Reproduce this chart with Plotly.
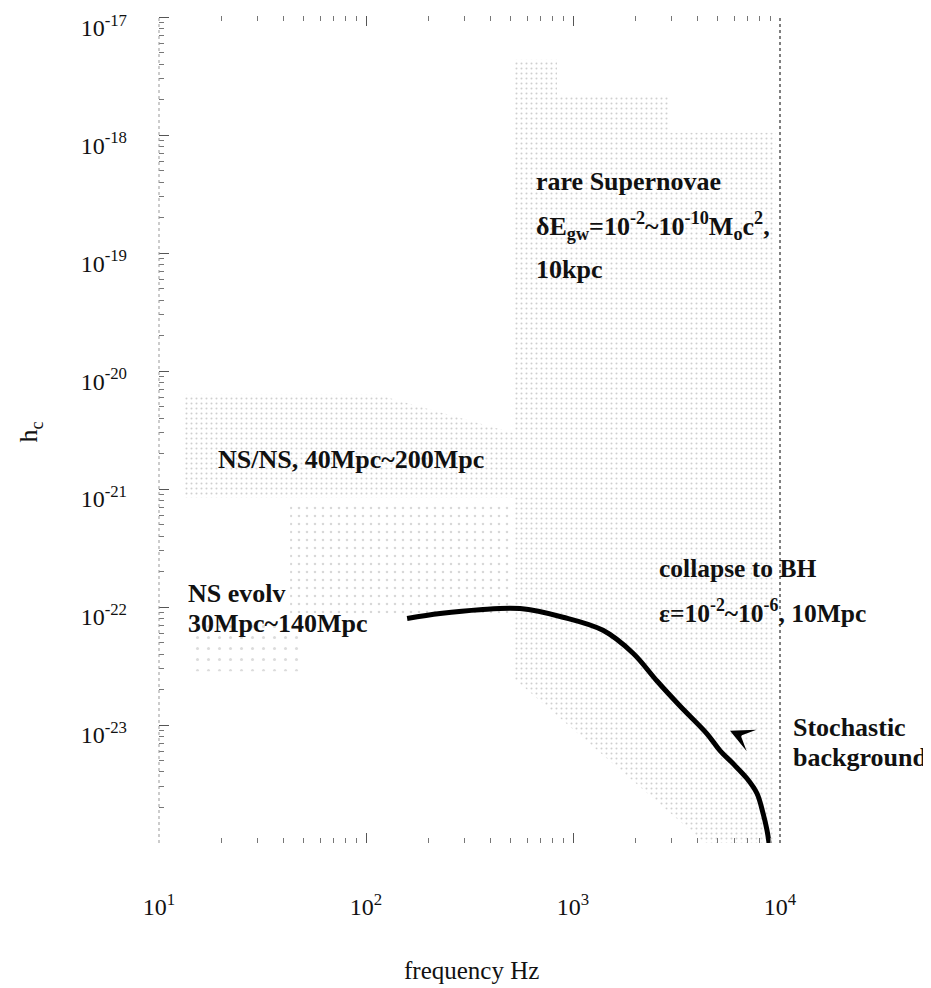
import plotly.graph_objects as go

# ---- data ----
FREQ = [158, 228, 355, 555, 895, 1396, 1950, 2546, 3288, 4440, 5130, 5929, 6928, 7745, 8278, 8655, 8850]
HC = [8.0e-23, 8.8e-23, 9.5e-23, 9.7e-23, 8.2e-23, 6.35e-23, 4.06e-23, 2.36e-23, 1.45e-23,
      8.43e-24, 6.07e-24, 4.71e-24, 3.52e-24, 2.63e-24, 1.79e-24, 1.28e-24, 1.0e-24]

# stippled regions (polygon vertices, freq Hz / h_c)
SN_F = [513, 837, 837, 2877, 2877, 9500, 9500, 4350, 536, 513]
SN_H = [4.35e-18, 4.35e-18, 2.12e-18, 2.12e-18, 1.05e-18, 1.05e-18, 1.0e-24, 1.0e-24, 2.36e-23, 2.36e-23]
NSNS_F = [13.1, 114, 513, 513, 13.1]
NSNS_H = [6.3e-21, 6.3e-21, 3.0e-21, 8.5e-22, 8.5e-22]
SPARSE_F = [43, 513, 513, 43]
SPARSE_H = [7.75e-22, 7.75e-22, 8.8e-23, 8.8e-23]
EVOLV_F = [14.1, 48, 48, 14.1]
EVOLV_H = [7.55e-23, 7.55e-23, 2.86e-23, 2.86e-23]

X_TICK_VALS = [10, 100, 1000, 10000]
X_TICK_TEXT = ["10<sup>1</sup>", "10<sup>2</sup>", "10<sup>3</sup>", "10<sup>4</sup>"]
Y_TICK_VALS = [1e-23, 1e-22, 1e-21, 1e-20, 1e-19, 1e-18, 1e-17]
Y_TICK_TEXT = ["10<sup>-23</sup>", "10<sup>-22</sup>", "10<sup>-21</sup>", "10<sup>-20</sup>",
               "10<sup>-19</sup>", "10<sup>-18</sup>", "10<sup>-17</sup>"]

FONT = "Liberation Serif, Times New Roman, serif"

# ---- layout geometry (page pixels; the page body has an 8px margin) ----
OFF = 8
W, H = 931 - OFF, 988 - OFF
Y_TOP = -16.99          # log10 range top, slightly above 1e-17
DEC = 118.7             # pixels per decade on y
L, R, B = 159, 780, 843
T = 12 - (Y_TOP + 17) * DEC
PW, PH = R - L, B - T


def px(x):
    return (x - L) / PW


def py(y):
    return (B - y) / PH


fig = go.Figure()


def region(fx, hy, solidity, size, color):
    fig.add_trace(go.Scatter(
        x=fx, y=hy, mode="lines", fill="toself",
        line=dict(width=0, color="rgba(0,0,0,0)"),
        fillcolor="rgba(0,0,0,0)",
        fillpattern=dict(shape=".", size=size, solidity=solidity,
                         fgcolor=color, bgcolor="rgba(0,0,0,0)"),
        hoverinfo="skip", showlegend=False))


region(SN_F, SN_H, 0.13, 5, "#a0a0a0")
region(NSNS_F, NSNS_H, 0.13, 5, "#a0a0a0")
region(SPARSE_F, SPARSE_H, 0.08, 8, "#b0b0b0")
region(EVOLV_F, EVOLV_H, 0.06, 11, "#b8b8b8")

fig.add_trace(go.Scatter(
    x=FREQ, y=HC, mode="lines", line=dict(color="black", width=5, shape="spline"),
    showlegend=False, hoverinfo="skip"))

minor_x = [m * 10 ** e for e in range(1, 4) for m in range(2, 10)]
minor_y = [m * 10.0 ** e for e in range(-24, -17) for m in range(2, 10)]

fig.update_xaxes(
    type="log", range=[1, 4], showgrid=False, zeroline=False, showline=False,
    tickmode="array", tickvals=X_TICK_VALS, ticktext=X_TICK_TEXT,
    ticks="inside", ticklen=10, tickwidth=1, tickcolor="#555", mirror="ticks",
    ticklabelstandoff=47, ticklabeloverflow="allow",
    tickfont=dict(family=FONT, size=24, color="#111"),
    minor=dict(tickmode="array", tickvals=minor_x, ticks="inside", ticklen=5,
               tickwidth=1, tickcolor="#777", showgrid=False),
)
fig.update_yaxes(
    type="log", range=[-24, Y_TOP], showgrid=False, zeroline=False, showline=False,
    tickmode="array", tickvals=Y_TICK_VALS, ticktext=Y_TICK_TEXT,
    ticks="inside", ticklen=10, tickwidth=1, tickcolor="#555",
    ticklabelstandoff=31, ticklabelshift=10, ticklabeloverflow="allow",
    tickfont=dict(family=FONT, size=24, color="#111"),
    minor=dict(tickmode="array", tickvals=minor_y, ticks="inside", ticklen=5,
               tickwidth=1, tickcolor="#777", showgrid=False),
)

fig.add_shape(type="line", xref="paper", yref="paper", x0=0, x1=0, y0=0, y1=1,
              line=dict(color="#999", width=1, dash="dot"))
fig.add_shape(type="line", xref="paper", yref="paper", x0=1, x1=1, y0=0, y1=1,
              line=dict(color="#555", width=1.5, dash="dot"))


def label(text, x, y, size=26, bold=True, anchor="left", angle=0):
    fig.add_annotation(
        text=f"<b>{text}</b>" if bold else text,
        xref="paper", yref="paper", x=px(x), y=py(y),
        xanchor=anchor, yanchor="middle", showarrow=False, textangle=angle,
        font=dict(family=FONT, size=size, color="#111"))


label("rare Supernovae", 534, 177)
label("δE<sub>gw</sub>=10<sup>-2</sup>~10<sup>-10</sup>M<sub>o</sub>c<sup>2</sup>,", 534, 222)
label("10kpc", 534, 266)
label("NS/NS, 40Mpc~200Mpc", 216, 457)
label("NS evolv", 186, 592)
label("30Mpc~140Mpc", 186, 622)
label("collapse to BH", 657, 567, size=25.5)
label("ε=10<sup>-2</sup>~10<sup>-6</sup>, 10Mpc", 657, 610, size=25.5)
label("Stochastic", 791, 727)
label("background", 791, 757)
label("frequency Hz", 471, 971, size=25, bold=False, anchor="center")
label("h<sub>c</sub>", 30, 430, size=26, bold=False, anchor="center", angle=-90)

fig.add_annotation(
    xref="paper", yref="paper", x=px(730), y=py(730), text="",
    showarrow=True, arrowhead=3, arrowsize=3.3, arrowwidth=1.2, arrowcolor="black",
    ax=11, ay=5)

fig.update_layout(
    width=W, height=H, autosize=False,
    margin=dict(l=L - OFF, r=W - (R - OFF), t=T - OFF, b=H - (B - OFF), pad=0),
    paper_bgcolor="white", plot_bgcolor="white",
    showlegend=False,
)

fig.write_html("out.html")
